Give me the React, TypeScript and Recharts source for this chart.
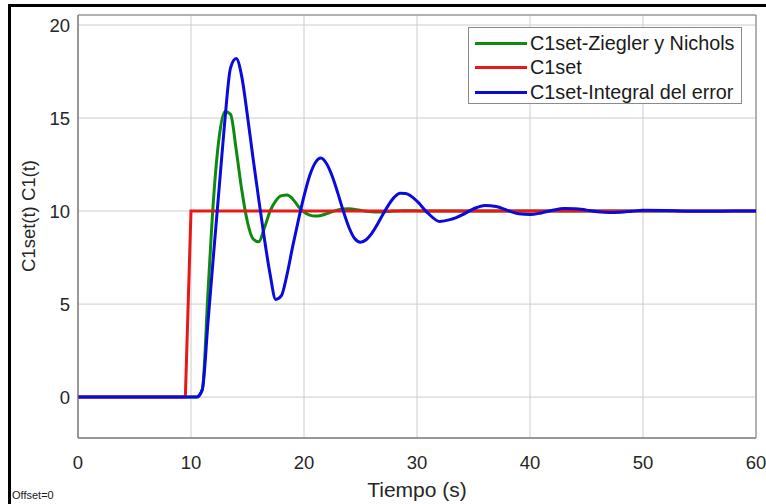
import React from "react";
import {
  LineChart, Line, XAxis, YAxis, CartesianGrid, ReferenceArea, Legend, Label,
} from "recharts";

// simulation time (s)
const time = [
  0, 9.5, 10, 10.5, 11, 11.5, 12, 12.5, 13, 13.5, 14, 14.5, 15, 15.5, 16, 16.5,
  17, 17.5, 18, 18.5, 19, 19.5, 20, 20.5, 21, 21.5, 22, 22.5, 23, 23.5, 24, 24.5,
  25, 25.5, 26, 26.5, 27, 27.5, 28, 28.5, 29, 29.5, 30, 31, 32, 33, 34, 35, 36,
  37, 38, 39, 40, 41, 42, 43, 44, 45, 46, 47, 48, 49, 50, 52, 54, 56, 58, 60,
];

// set point step
const setpoint = [
  0, 0, 10, 10, 10, 10, 10, 10, 10, 10, 10, 10, 10, 10, 10, 10,
  10, 10, 10, 10, 10, 10, 10, 10, 10, 10, 10, 10, 10, 10, 10, 10,
  10, 10, 10, 10, 10, 10, 10, 10, 10, 10, 10, 10, 10, 10, 10, 10, 10,
  10, 10, 10, 10, 10, 10, 10, 10, 10, 10, 10, 10, 10, 10, 10, 10, 10, 10, 10,
];

// response with Ziegler-Nichols tuning
const zieglerNichols = [
  0, 0, 0, 0, 0.4, 5.6, 10.7, 14.0, 15.35, 15.2, 13.3, 11.1, 9.4, 8.5, 8.35, 9.1,
  10.0, 10.55, 10.83, 10.86, 10.65, 10.25, 9.95, 9.78, 9.73, 9.76, 9.86, 9.97, 10.06, 10.11, 10.12, 10.09,
  10.04, 9.99, 9.96, 9.95, 9.96, 9.98, 10.0, 10.01, 10.02, 10.02, 10.01, 10, 10, 10, 10, 10, 10,
  10, 10, 10, 10, 10, 10, 10, 10, 10, 10, 10, 10, 10, 10, 10, 10, 10, 10, 10,
];

// response with integral-error tuning
const integralError = [
  0, 0, 0, 0, 0.4, 4.0, 7.7, 11.3, 14.9, 17.7, 18.2, 17.2, 15.1, 12.8, 10.6, 8.5,
  6.6, 5.25, 5.45, 6.6, 8.1, 9.5, 10.8, 11.9, 12.6, 12.85, 12.54, 11.87, 10.95, 9.96, 9.09, 8.51,
  8.33, 8.46, 8.8, 9.29, 9.84, 10.35, 10.75, 10.96, 10.95, 10.79, 10.53, 9.87, 9.44, 9.55, 9.8, 10.12, 10.3,
  10.24, 10.04, 9.85, 9.81, 9.9, 10.04, 10.14, 10.13, 10.05, 9.96, 9.92, 9.94, 9.99, 10.04, 10.03, 9.99, 9.99, 10.0, 10.0,
];

const xTicks = [0, 10, 20, 30, 40, 50, 60];
const yTicks = [0, 5, 10, 15, 20];

const series = [
  { key: "zn", name: "C1set-Ziegler y Nichols", color: "#0f8a10" },
  { key: "sp", name: "C1set", color: "#e81818" },
  { key: "ie", name: "C1set-Integral del error", color: "#0a0ade" },
];

const data = time.map((t, i) => ({
  t,
  sp: setpoint[i],
  zn: zieglerNichols[i],
  ie: integralError[i],
}));

const FONT = '"Liberation Sans", Arial, Helvetica, sans-serif';
const YMIN = -2.2;
const YMAX = 20.54;

function ScopeLegend() {
  return (
    <div
      style={{
        width: 274,
        height: 77,
        border: "1px solid #8a8a8a",
        background: "#fff",
        fontFamily: FONT,
        fontSize: 19.8,
        color: "#1a1a1a",
        paddingTop: 3,
        boxSizing: "border-box",
      }}
    >
      {series.map((s) => (
        <div key={s.key} style={{ display: "flex", alignItems: "center", height: 24.5 }}>
          <span style={{ display: "inline-block", width: 52, height: 3, background: s.color, marginLeft: 6, marginRight: 3 }} />
          <span style={{ whiteSpace: "nowrap" }}>{s.name}</span>
        </div>
      ))}
    </div>
  );
}

export default function App() {
  return (
    <div style={{ position: "absolute", left: 0, top: 0, width: 766, height: 504, background: "#fff", overflow: "hidden" }}>
      <LineChart
        width={766}
        height={504}
        data={data}
        margin={{ top: 15, right: 10, left: 18, bottom: 36 }}
      >
        <CartesianGrid stroke="#cccccc" strokeWidth={1} />
        <XAxis
          dataKey="t"
          type="number"
          domain={[0, 60]}
          ticks={xTicks}
          height={30}
          tickLine={false}
          axisLine={{ stroke: "#7f7f7f" }}
          tickMargin={12}
          tick={{ fill: "#262626", fontSize: 18.5, fontFamily: FONT }}
        >
          <Label value="Tiempo (s)" position="bottom" offset={14} fill="#262626" fontSize={21} fontFamily={FONT} />
        </XAxis>
        <YAxis
          type="number"
          domain={[YMIN, YMAX]}
          ticks={yTicks}
          allowDataOverflow
          width={60}
          tickLine={false}
          axisLine={{ stroke: "#7f7f7f" }}
          tick={{ fill: "#262626", fontSize: 18.5, fontFamily: FONT }}
        >
          <Label
            content={() => (
              <text
                x={28}
                y={216}
                transform="rotate(-90 28 216)"
                textAnchor="middle"
                dominantBaseline="central"
                fill="#262626"
                fontSize={18.5}
                fontFamily={FONT}
              >
                C1set(t) C1(t)
              </text>
            )}
          />
        </YAxis>
        <ReferenceArea x1={0} x2={60} y1={YMIN} y2={YMAX} fill="none" stroke="#7f7f7f" strokeWidth={1} />
        {series.map((s) => (
          <Line
            key={s.key}
            dataKey={s.key}
            name={s.name}
            type={s.key === "sp" ? "linear" : "monotone"}
            stroke={s.color}
            strokeWidth={3}
            dot={false}
            isAnimationActive={false}
          />
        ))}
        <Legend
          layout="vertical"
          align="center"
          verticalAlign="middle"
          content={() => <ScopeLegend />}
          wrapperStyle={{ left: 468, top: 27, width: 274, height: 77 }}
        />
      </LineChart>
      {/* window frame */}
      <div style={{ position: "absolute", left: 8, top: 4, width: 758, height: 3, background: "#000" }} />
      <div style={{ position: "absolute", left: 8, top: 4, width: 3, height: 500, background: "#000" }} />
      <div style={{ position: "absolute", left: 12, top: 489, fontFamily: FONT, fontSize: 11, color: "#1a1a1a" }}>
        Offset=0
      </div>
    </div>
  );
}
